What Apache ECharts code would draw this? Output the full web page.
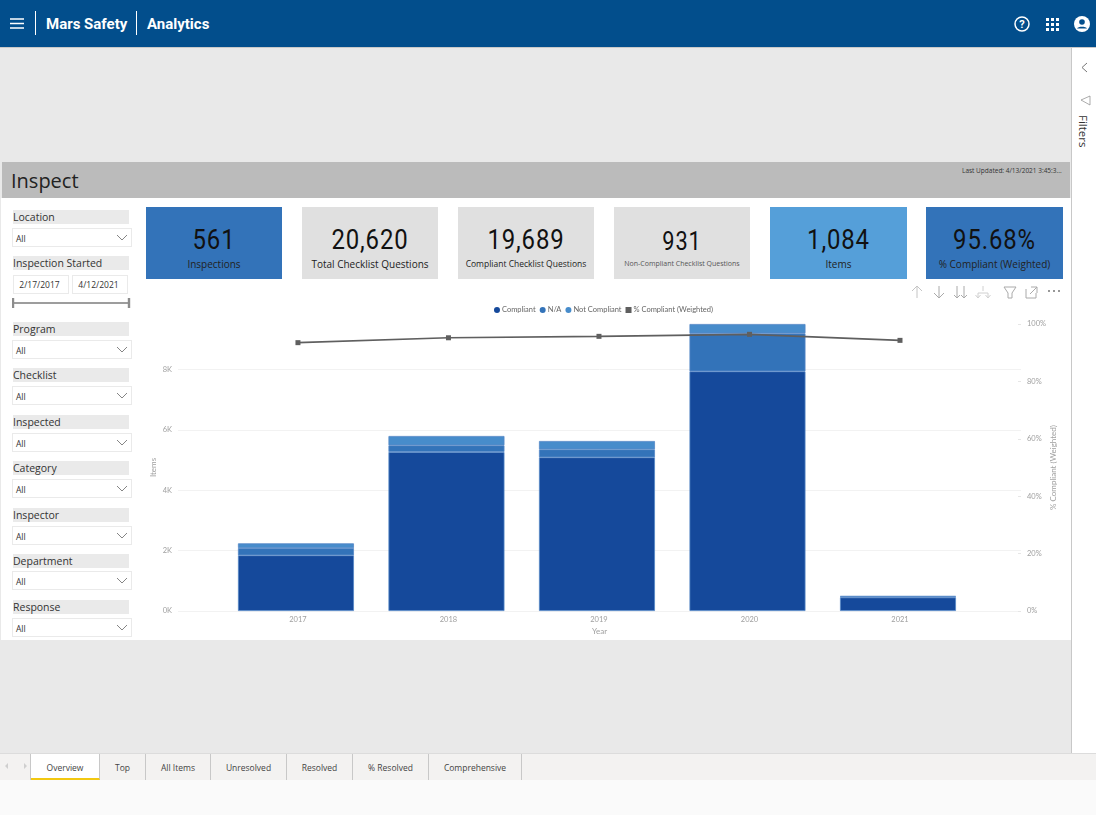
<!DOCTYPE html>
<html>
<head>
<meta charset="utf-8">
<title>Mars Safety Analytics</title>
<script src="https://cdn.jsdelivr.net/npm/echarts@6/dist/echarts.min.js"></script>
<style>
  html, body { margin: 0; padding: 0; }
  body { width: 1096px; height: 815px; position: relative; overflow: hidden; background: #fff; font-family: "Open Sans", "Noto Sans", sans-serif; color: #333; }
  .abs, .abs * { box-sizing: border-box; }
  .abs { position: absolute; }
  #topbar { left: 0; top: 0; width: 1096px; height: 47px; background: #024e8c; color: #fff; font-family: Roboto, sans-serif; font-weight: 700; font-size: 15px; line-height: 48px; }
  #topbar .t { position: absolute; top: 0; }
  #topbar .sep { position: absolute; top: 11px; width: 1px; height: 24px; background: #fff; }
  .hdr { left: 13px; width: 116px; background: #eaeaea; font-size: 10.5px; line-height: 14px; height: 14px; color: #333; padding-left: 0; }
  .drop { left: 12px; width: 120px; height: 19px; background: #fff; border: 1px solid #eaeaea; font-size: 8.5px; line-height: 19px; padding-left: 3px; color: #333; }
  .drop svg { position: absolute; right: 3px; top: 5px; }
  .date { top: 275px; height: 19px; background: #fff; border: 1px solid #eaeaea; font-size: 8.5px; line-height: 18px; text-align: center; color: #333; padding-right: 3px; }
  .kpi { top: 207px; height: 72px; text-align: center; color: #111; }
  .kpi .num { position: absolute; left: 0; right: 0; top: 17px; font-family: Roboto, sans-serif; font-size: 27.5px; line-height: 32px; letter-spacing: 1px; transform: scaleX(.87); }
  .kpi .lab { position: absolute; left: 0; right: 0; top: 50px; font-size: 10px; line-height: 14px; color: #222; white-space: nowrap; }
  .tab { top: 754px; height: 26px; border-right: 1px solid #c8c8c8; font-size: 8.5px; line-height: 27px; text-align: center; color: #444; }
</style>
</head>
<body>
<div class="abs" style="left:0;top:47px;width:1096px;height:706px;background:#e9e9e9;border-top:1px solid #c9c9c9"></div>
<div class="abs" style="left:1071px;top:48px;width:25px;height:705px;background:#fff;border-left:1px solid #c8c8c8"></div>
<div class="abs" style="left:1px;top:198px;width:1070px;height:442px;background:#fff"></div>
<div class="abs" style="left:2px;top:162px;width:1068px;height:36px;background:#bbbbbb"></div>
<div class="abs" style="left:11px;top:166px;font-size:20px;line-height:30px;color:#222">Inspect</div>
<div class="abs" style="left:962px;top:166px;font-size:6.5px;line-height:10px;color:#333;white-space:nowrap">Last Updated: 4/13/2021 3:45:3...</div>

<div class="abs" id="topbar">
  <svg style="position:absolute;left:10px;top:18px" width="14" height="11"><path d="M0 1h14M0 5.5h14M0 10h14" stroke="#fff" stroke-width="1.4"/></svg>
  <div class="sep" style="left:35px"></div>
  <div class="t" style="left:46px">Mars Safety</div>
  <div class="sep" style="left:136px"></div>
  <div class="t" style="left:147px">Analytics</div>
  <svg style="position:absolute;left:1014px;top:16px" width="16" height="16"><circle cx="8" cy="8" r="7" fill="none" stroke="#fff" stroke-width="1.5"/><text x="8" y="12" text-anchor="middle" font-size="11" font-weight="700" fill="#fff">?</text></svg>
  <svg style="position:absolute;left:1046px;top:18px" width="13" height="13"><path d="M0 0h3v3H0zM5 0h3v3H5zM10 0h3v3h-3zM0 5h3v3H0zM5 5h3v3H5zM10 5h3v3h-3zM0 10h3v3H0zM5 10h3v3H5zM10 10h3v3h-3z" fill="#fff"/></svg>
  <svg style="position:absolute;left:1074px;top:16px" width="16" height="16"><circle cx="8" cy="8" r="8" fill="#fff"/><circle cx="8" cy="6" r="2.8" fill="#024e8c"/><path d="M3 12.5c1-2.5 9-2.5 10 0z" fill="#024e8c"/></svg>
</div>

<svg class="abs" style="left:1080px;top:62px" width="10" height="11"><path d="M7 1L2 5.5L7 10" fill="none" stroke="#777"/></svg>
<svg class="abs" style="left:1080px;top:95px" width="11" height="11"><path d="M1 5L10 1V10Z" fill="none" stroke="#888" stroke-width=".7"/></svg>
<div class="abs" style="left:1074px;top:115px;width:18px;height:18px;font-size:11.5px;line-height:18px;white-space:nowrap;transform:rotate(90deg);transform-origin:9px 9px;color:#333">Filters</div>

<div id="slicers"></div>
<div class="abs date" style="left:13px;width:56px">2/17/2017</div>
<div class="abs date" style="left:72px;width:56px">4/12/2021</div>
<svg class="abs" style="left:12px;top:297px" width="119" height="12"><path d="M1 6H117" stroke="#7d7d7d" stroke-width="1.4"/><path d="M1 1V11M117 1V11" stroke="#8c8c8c" stroke-width="2.4"/></svg>

<div id="kpis"></div>

<svg class="abs" style="left:910px;top:284px" width="152" height="16" fill="none" stroke="#c4c4c4" stroke-width="1">
  <path d="M7 14V2M2 7L7 2L12 7"/>
  <path d="M29 2V14M24 9L29 14L34 9" stroke="#aaa"/>
  <path d="M47 2V14M44 11L47 14L50 11M54 2V14M51 11L54 14L57 11" stroke="#aaa"/>
  <path d="M73 2V7M68 13V9H78V13M65.5 11L68 14L70.5 11M75.5 11L78 14L80.5 11" stroke="#d0d0d0"/>
  <path d="M94 3H106L102 9V14H98V9Z" stroke="#aaa"/>
  <path d="M116 5V14H126V9M121 3H127V9M127 3L120 10" stroke="#aaa"/>
  <path d="M138 7h2M143 7h2M148 7h2" stroke="#777" stroke-width="1.4"/>
</svg>

<div class="abs" id="chart" style="left:136px;top:300px;width:935px;height:340px"></div>

<div class="abs" style="left:0;top:753px;width:1096px;height:27px;background:#f3f2f1;border-top:1px solid #dcdcdc"></div>
<div class="abs" style="left:0;top:780px;width:1096px;height:35px;background:#fafafa"></div>
<svg class="abs" style="left:4px;top:762px" width="24" height="8"><path d="M4 1L1 4L4 7ZM20 1L23 4L20 7Z" fill="#cfcfcf"/></svg>
<div class="abs" style="left:30px;top:754px;width:1px;height:26px;background:#c8c8c8"></div>
<div id="tabs"></div>

<script>
const years = [2017, 2018, 2019, 2020, 2021];
const compliant = [1845, 5265, 5090, 7937, 450];
const notApplicable = [240, 222, 264, 1258, 25];
const notCompliant = [155, 308, 275, 308, 20];
const pctCompliant = [93.5, 95.2, 95.7, 96.4, 94.3];

const kpiCards = [
  ['561', 'Inspections', 146, 136, '#3373b9'],
  ['20,620', 'Total Checklist Questions', 302, 136, '#e0e0e0'],
  ['19,689', 'Compliant Checklist Questions', 458, 136, '#e0e0e0'],
  ['931', 'Non-Compliant Checklist Questions', 614, 136, '#e0e0e0'],
  ['1,084', 'Items', 770, 137, '#559fd9'],
  ['95.68%', '% Compliant (Weighted)', 926, 137, '#3373b9']
];
const slicers = [
  ['Location', 210, 228], ['Inspection Started', 256, 0], ['Program', 322, 340],
  ['Checklist', 368, 386], ['Inspected', 415, 433], ['Category', 461, 479],
  ['Inspector', 508, 526], ['Department', 554, 571], ['Response', 600, 618]
];
const tabs = [
  ['Overview', 31, 69], ['Top', 100, 46], ['All Items', 146, 65], ['Unresolved', 211, 76],
  ['Resolved', 287, 66], ['% Resolved', 353, 76], ['Comprehensive', 429, 93]
];

const chevron = '<svg width="12" height="8"><path d="M1 1L6 6L11 1" fill="none" stroke="#777" stroke-width=".9"/></svg>';
document.getElementById('slicers').innerHTML = slicers.map(([name, y, dropY]) =>
  `<div class="abs hdr" style="top:${y}px">${name}</div>` +
  (dropY ? `<div class="abs drop" style="top:${dropY}px">All${chevron}</div>` : '')
).join('');
document.getElementById('kpis').innerHTML = kpiCards.map(([num, label, x, w, bg]) => {
  const small = label.length > 30 ? 'font-size:7px;color:#555' : label.length > 26 ? 'font-size:8.5px' : '';
  const numStyle = num === '931' ? 'top:19px;font-size:25px' : '';
  return `<div class="abs kpi" style="left:${x}px;width:${w}px;background:${bg}"><div class="num" style="${numStyle}">${num}</div><div class="lab" style="${small}">${label}</div></div>`;
}).join('');
document.getElementById('tabs').innerHTML = tabs.map(([name, x, w], i) =>
  `<div class="abs tab" style="left:${x}px;width:${w}px;${i === 0 ? 'background:#fff;border-bottom:2px solid #f2c811' : ''}">${name}</div>`
).join('');

const FONT = 'Lato, "Open Sans", sans-serif';
const axisText = { color: '#a0a0a0', fontSize: 7.5, fontFamily: FONT };
const nameText = { color: '#a0a0a0', fontSize: 8, fontFamily: FONT };
const xMin = 2016.203, xMax = 2021.804;
const barShift = 2 / 150.5; // bars sit 2px left of the year labels

// value first: ECharts stacks the first numeric column when x is a value axis
function barSeries(name, values, color) {
  return {
    name, type: 'bar', stack: 'items', xAxisIndex: 1, yAxisIndex: 0, barWidth: 116,
    encode: { x: 1, y: 0 },
    itemStyle: { color, borderColor: '#5588c6', borderWidth: 0.8 },
    data: years.map((y, i) => [values[i], y])
  };
}

const myChart = echarts.init(document.getElementById('chart'), null, { renderer: 'canvas' });
myChart.setOption({
  animation: false,
  backgroundColor: 'transparent',
  legend: {
    top: 6, left: 'center', itemWidth: 6, itemHeight: 6, itemGap: 4, padding: 0,
    itemStyle: { borderWidth: 0 },
    textStyle: { color: '#666', fontSize: 7.5, fontFamily: FONT, padding: [0, 0, 0, -3] },
    data: [
      { name: 'Compliant', icon: 'circle' }, { name: 'N/A', icon: 'circle' },
      { name: 'Not Compliant', icon: 'circle' }, { name: '% Compliant (Weighted)', icon: 'rect' }
    ]
  },
  grid: { left: 42, right: 50, top: 24, bottom: 29, outerBoundsMode: 'none' },
  xAxis: [
    {
      type: 'value', min: xMin, max: xMax, name: 'Year', nameLocation: 'middle', nameGap: 16.5, nameMoveOverlap: false,
      nameTextStyle: nameText, splitLine: { show: false }, axisLine: { show: false }, axisTick: { show: false },
      axisLabel: { ...axisText, customValues: years, formatter: v => String(v), margin: 5 }
    },
    { type: 'value', min: xMin + barShift, max: xMax + barShift, show: false, splitLine: { show: false } }
  ],
  yAxis: [
    {
      type: 'value', min: 0, max: 9503, interval: 2000, name: 'Items', nameLocation: 'middle', nameGap: 21, nameMoveOverlap: false,
      nameRotate: 90, nameTextStyle: nameText, axisLine: { show: false }, axisTick: { show: false },
      splitLine: { show: true, showMaxLine: false, lineStyle: { color: '#f2f2f2', width: 1 } },
      axisLabel: { ...axisText, showMaxLabel: false, margin: 6, formatter: v => (v / 1000) + 'K' }
    },
    {
      type: 'value', min: 0, max: 100, interval: 20, position: 'right', name: '% Compliant (Weighted)',
      nameLocation: 'middle', nameGap: 28, nameMoveOverlap: false, nameRotate: 90, nameTextStyle: nameText,
      axisLine: { show: false }, splitLine: { show: false },
      axisTick: { show: true, inside: true, length: 3, lineStyle: { color: '#e6e6e6' } },
      axisLabel: { ...axisText, margin: 6, formatter: '{value}%' }
    }
  ],
  series: [
    barSeries('Compliant', compliant, '#15499b'),
    barSeries('N/A', notApplicable, '#3373b9'),
    barSeries('Not Compliant', notCompliant, '#478ccb'),
    {
      name: '% Compliant (Weighted)', type: 'line', xAxisIndex: 0, yAxisIndex: 1, z: 5,
      symbol: 'rect', symbolSize: 5, itemStyle: { color: '#5f5f5f' }, lineStyle: { color: '#5f5f5f', width: 1.6 },
      data: years.map((y, i) => [y, pctCompliant[i]])
    }
  ]
});
</script>
</body>
</html>
